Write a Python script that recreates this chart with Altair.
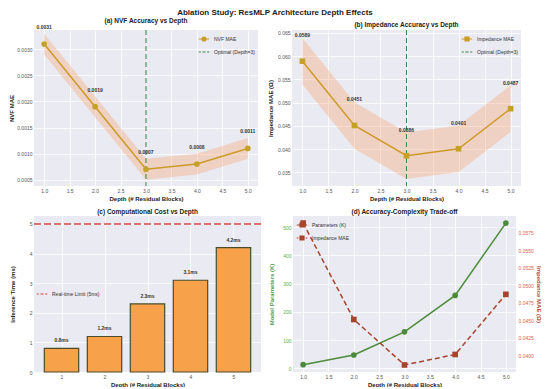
import altair as alt
import pandas as pd

# ---------------- data ----------------
depth = [1, 2, 3, 4, 5]
nvf_mae = [0.0031, 0.0019, 0.0007, 0.0008, 0.0011]
nvf_std = [0.0002, 0.0002, 0.0002, 0.0002, 0.0002]
imp_mae = [0.0589, 0.0451, 0.0386, 0.0401, 0.0487]
imp_std = [0.005, 0.005, 0.005, 0.005, 0.005]
inference_ms = [0.8, 1.2, 2.3, 3.1, 4.2]
params_k = [13, 47, 129, 258, 514]
optimal_depth = 3
realtime_limit_ms = 5

x_ticks = [1.0, 1.5, 2.0, 2.5, 3.0, 3.5, 4.0, 4.5, 5.0]
nvf_ticks = [0.0005, 0.0010, 0.0015, 0.0020, 0.0025, 0.0030]
imp_ticks = [0.035, 0.040, 0.045, 0.050, 0.055, 0.060, 0.065]
time_ticks = [0, 1, 2, 3, 4, 5]
param_ticks = [0, 100, 200, 300, 400, 500]
mae_right_ticks = [0.0400, 0.0425, 0.0450, 0.0475, 0.0500, 0.0525, 0.0550, 0.0575]

# ---------------- style ----------------
FONT = "Liberation Sans"
BG = "#EAEAF2"
GOLD = "#CC9A27"
GOLD_PT = "#C4A228"
BAND = "#F6A77A"
GREEN_OPT = "#3D8A4A"
ORANGE = "#F7A24B"
EDGE = "#4B4B2A"
RED_LIM = "#DD4440"
GREEN = "#4C8B3A"
RED2 = "#A8442C"

LINE_CIRCLE = "M-1,0H-0.38M0.38,0H1M0.38,0A0.38,0.38 0 1 1 -0.38,0A0.38,0.38 0 1 1 0.38,0Z"
LINE_SQUARE = "M-1,0H-0.38M0.38,0H1M-0.38,-0.38H0.38V0.38H-0.38Z"
DASH = "M-1,0H-0.6M-0.3,0H0.3M0.6,0H1"
DASH_SQUARE = "M-1,0H-0.7M0.7,0H1M-0.38,-0.38H0.38V0.38H-0.38Z"

XTITLE = "Depth (# Residual Blocks)"
YEXT = 17


def axis(**kw):
    return alt.Axis(labelOverlap=False, labelFlush=False, labelBound=False, tickCount=50, **kw)


def legend(orient="top-right", **kw):
    return alt.Legend(title=None, orient=orient, offset=3, symbolSize=110,
                      symbolStrokeWidth=1.2, symbolOpacity=1, labelFont=FONT,
                      labelFontSize=5, labelColor="#333", rowPadding=2,
                      symbolLimit=0, **kw)


def legend_layer(key, names, colors, shapes, xfield, yfield, xval, yval, leg):
    df = pd.DataFrame({key: names, xfield: [xval] * len(names), yfield: [yval] * len(names)})
    sc_col = alt.Scale(domain=names, range=colors)
    sc_shape = alt.Scale(domain=names, range=shapes)
    return alt.Chart(df).mark_point(filled=True, opacity=0, strokeWidth=1.2).encode(
        x=alt.X(f"{xfield}:Q"),
        y=alt.Y(f"{yfield}:Q"),
        fill=alt.Fill(f"{key}:N", scale=sc_col, legend=leg),
        stroke=alt.Stroke(f"{key}:N", scale=sc_col, legend=leg),
        shape=alt.Shape(f"{key}:N", scale=sc_shape, legend=leg),
    )


x_cont = alt.X("depth:Q", scale=alt.Scale(domain=[0.8, 5.2], nice=False, zero=False),
               axis=axis(values=x_ticks, format=".1f", title=XTITLE))

# ---------------- (a) ----------------
df_a = pd.DataFrame({"depth": depth, "mae": nvf_mae, "std": nvf_std})
base_a = alt.Chart(df_a).transform_calculate(
    lo="datum.mae - datum.std", hi="datum.mae + datum.std",
    label="format(datum.mae, '.4f')")
y_a = alt.Scale(domain=[0.00038, 0.00337], nice=False, zero=False)
band_a = base_a.mark_area(color=BAND, opacity=0.38).encode(
    x=x_cont,
    y=alt.Y("lo:Q", scale=y_a, axis=axis(values=nvf_ticks, format=".4f", title="NVF MAE", minExtent=YEXT)),
    y2="hi:Q")
opt_df = pd.DataFrame({"depth": [optimal_depth]})
rule_a = alt.Chart(opt_df).mark_rule(color=GREEN_OPT, strokeDash=[5, 3], strokeWidth=1.1).encode(x="depth:Q")
line_a = base_a.mark_line(color=GOLD, strokeWidth=1.5).encode(x="depth:Q", y=alt.Y("mae:Q", scale=y_a))
pts_a = base_a.mark_point(filled=True, color=GOLD_PT, size=32, opacity=1).encode(x="depth:Q", y=alt.Y("mae:Q", scale=y_a))
txt_a = base_a.mark_text(font=FONT, fontSize=5, fontWeight="bold", color="#333", dy=-17).encode(
    x="depth:Q", y=alt.Y("mae:Q", scale=y_a), text="label:N")
leg_a = legend_layer("ser_a", ["NVF MAE", "Optimal (Depth=3)"], [GOLD, GREEN_OPT], [LINE_CIRCLE, DASH],
                     "depth", "mae", 3, 0.002, legend("top-right"))
panel_a = alt.layer(band_a, rule_a, line_a, pts_a, txt_a, leg_a).properties(
    width=224, height=156, title="(a) NVF Accuracy vs Depth")

# ---------------- (b) ----------------
df_b = pd.DataFrame({"depth": depth, "mae": imp_mae, "std": imp_std})
base_b = alt.Chart(df_b).transform_calculate(
    lo="datum.mae - datum.std", hi="datum.mae + datum.std",
    label="format(datum.mae, '.4f')")
y_b = alt.Scale(domain=[0.0321, 0.0656], nice=False, zero=False)
band_b = base_b.mark_area(color=BAND, opacity=0.38).encode(
    x=x_cont,
    y=alt.Y("lo:Q", scale=y_b, axis=axis(values=imp_ticks, format=".3f", title="Impedance MAE (Ω)", minExtent=YEXT)),
    y2="hi:Q")
rule_b = alt.Chart(opt_df).mark_rule(color=GREEN_OPT, strokeDash=[5, 3], strokeWidth=1.1).encode(x="depth:Q")
line_b = base_b.mark_line(color=GOLD, strokeWidth=1.5).encode(x="depth:Q", y=alt.Y("mae:Q", scale=y_b))
pts_b = base_b.mark_point(filled=True, shape="square", color=GOLD_PT, size=32, opacity=1).encode(
    x="depth:Q", y=alt.Y("mae:Q", scale=y_b))
txt_b = base_b.mark_text(font=FONT, fontSize=5, fontWeight="bold", color="#333", dy=-26).encode(
    x="depth:Q", y=alt.Y("mae:Q", scale=y_b), text="label:N")
leg_b = legend_layer("ser_b", ["Impedance MAE", "Optimal (Depth=3)"], [GOLD, GREEN_OPT], [LINE_SQUARE, DASH],
                     "depth", "mae", 3, 0.05, legend("top-right"))
panel_b = alt.layer(band_b, rule_b, line_b, pts_b, txt_b, leg_b).properties(
    width=229, height=156, title="(b) Impedance Accuracy vs Depth")

# ---------------- (c) ----------------
df_c = pd.DataFrame({"depth": depth, "ms": inference_ms})
base_c = alt.Chart(df_c).transform_calculate(
    x0="datum.depth - 0.4", x1="datum.depth + 0.4",
    label="format(datum.ms, '.1f') + 'ms'")
x_c = alt.Scale(domain=[0.36, 5.64], nice=False, zero=False)
y_c = alt.Scale(domain=[0, 5.27], nice=False)
bars_c = base_c.mark_bar(fill=ORANGE, stroke=EDGE, strokeWidth=1.2).encode(
    x=alt.X("x0:Q", scale=x_c, axis=axis(values=depth, format="d", title=XTITLE)),
    x2="x1:Q",
    y=alt.Y("ms:Q", scale=y_c, axis=axis(values=time_ticks, format="d", title="Inference Time (ms)", minExtent=YEXT)),
    y2=alt.datum(0))
txt_c = base_c.mark_text(font=FONT, fontSize=5, fontWeight="bold", color="#333", baseline="bottom", dy=-5).encode(
    x=alt.X("depth:Q", scale=x_c), y=alt.Y("ms:Q", scale=y_c), text="label:N")
lim_df = pd.DataFrame({"limit": [realtime_limit_ms]})
rule_c = alt.Chart(lim_df).mark_rule(color=RED_LIM, strokeDash=[7, 3], strokeWidth=1.3).encode(
    y=alt.Y("limit:Q", scale=y_c))
leg_c = legend_layer("ser_c", ["Real-time Limit (5ms)"], [RED_LIM], [DASH], "depth", "ms", 3, 2.5,
                     legend("none", legendX=2, legendY=72))
panel_c = alt.layer(bars_c, txt_c, rule_c, leg_c).properties(
    width=227, height=156, title="(c) Computational Cost vs Depth")

# ---------------- (d) ----------------
df_d = pd.DataFrame({"depth": depth, "params": params_k, "mae": imp_mae})
y_dl = alt.Scale(domain=[-13, 539], nice=False, zero=False)
y_dr = alt.Scale(domain=[0.03759, 0.05991], nice=False, zero=False)
line_dl = alt.Chart(df_d).mark_line(color=GREEN, strokeWidth=1.5).encode(
    x=x_cont,
    y=alt.Y("params:Q", scale=y_dl,
            axis=axis(values=param_ticks, format="d", title="Model Parameters (K)", orient="left", minExtent=YEXT,
                      labelColor="#5DAE4F", titleColor="#4F9A3F")))
pts_dl = alt.Chart(df_d).mark_point(filled=True, color=GREEN, size=32, opacity=1).encode(
    x="depth:Q", y=alt.Y("params:Q", scale=y_dl))
leg_d = legend_layer("ser_d", ["Parameters (K)", "Impedance MAE"], [RED2, RED2], [LINE_SQUARE, DASH_SQUARE],
                     "depth", "params", 3, 200, legend("top-left"))
left_d = alt.layer(line_dl, pts_dl, leg_d)
line_dr = alt.Chart(df_d).mark_line(color=RED2, strokeWidth=1.5, strokeDash=[5, 3]).encode(
    x="depth:Q",
    y=alt.Y("mae:Q", scale=y_dr,
            axis=axis(values=mae_right_ticks, format=".4f", title="Impedance MAE (Ω)", orient="right",
                      minExtent=YEXT, labelColor="#E0604F", titleColor="#B04A35")))
pts_dr = alt.Chart(df_d).mark_point(filled=True, shape="square", color=RED2, size=32, opacity=1).encode(
    x="depth:Q", y=alt.Y("mae:Q", scale=y_dr))
right_d = alt.layer(line_dr, pts_dr)
panel_d = alt.layer(left_d, right_d).resolve_scale(y="independent").properties(
    width=223, height=156, title="(d) Accuracy-Complexity Trade-off")

# ---------------- layout ----------------
indep = dict(fill="independent", stroke="independent", shape="independent")
row1 = alt.hconcat(panel_a, panel_b, spacing=9).resolve_scale(**indep).resolve_legend(**indep)
row2 = alt.hconcat(panel_c, panel_d, spacing=6).resolve_scale(**indep).resolve_legend(**indep)
chart = alt.vconcat(row1, row2, spacing=7).resolve_scale(**indep).resolve_legend(**indep).properties(
    title=alt.TitleParams("Ablation Study: ResMLP Architecture Depth Effects", fontSize=8, offset=1,
                          anchor="middle"),
    padding={"left": 0, "top": 0, "right": 0, "bottom": 0},
).configure_view(fill=BG, stroke=None).configure_axis(
    labelFont=FONT, labelFontSize=5, labelColor="#555",
    titleFont=FONT, titleFontSize=6, titleFontWeight="bold", titleColor="#222",
    grid=True, gridColor="white", gridWidth=0.8, domain=False, ticks=False,
    labelPadding=2, titlePadding=2,
).configure_title(font=FONT, fontSize=6.5, fontWeight="bold", color="#222", offset=1, anchor="middle")

chart.save("out.html", embed_options={"renderer": "svg", "actions": False})
